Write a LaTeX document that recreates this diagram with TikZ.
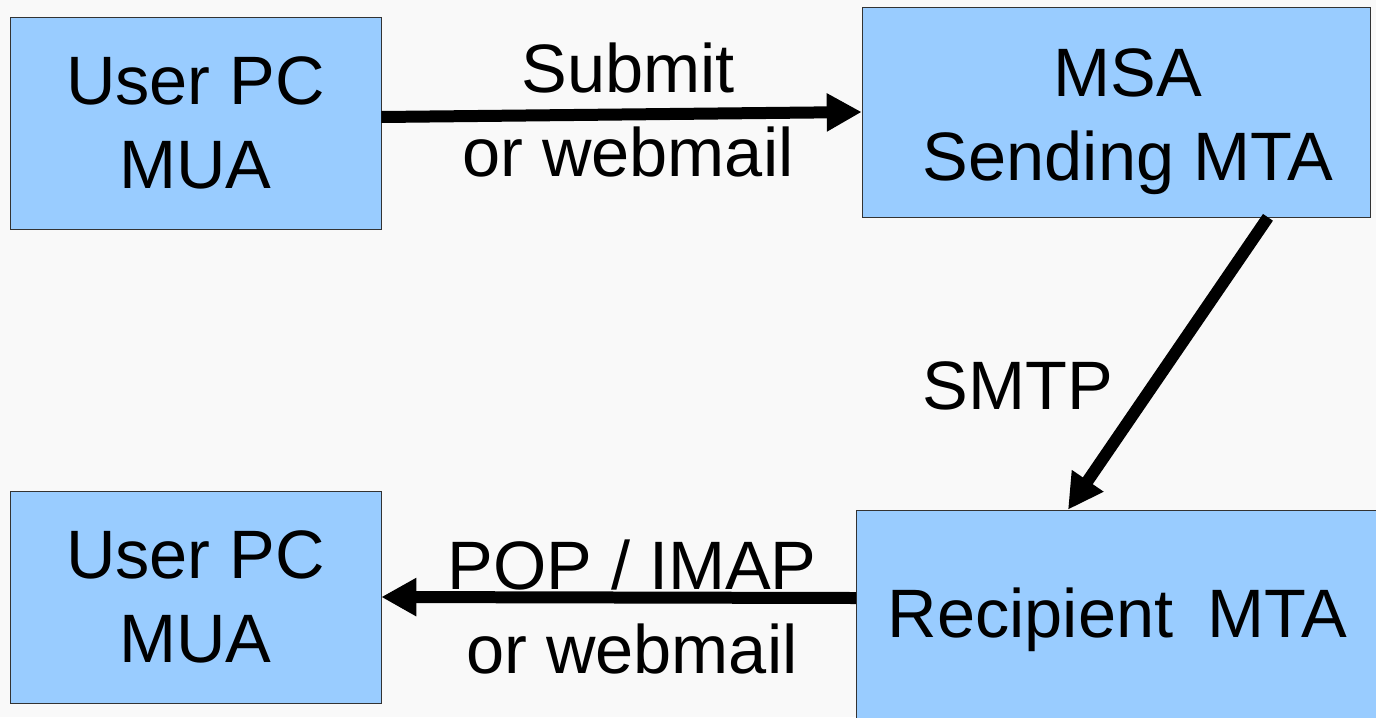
\documentclass[tikz,border=0pt]{standalone}
\usepackage{fontspec}
\setmainfont{Liberation Sans}
\usetikzlibrary{arrows.meta}

\definecolor{boxblue}{HTML}{99CCFF}
\definecolor{bggray}{HTML}{F9F9F9}

\begin{document}
\begin{tikzpicture}[x=0.02cm,y=-0.02cm,
  mbox/.style={draw=black!80, thin, fill=boxblue, align=center, inner sep=0pt,
    font=\fontsize{39}{48}\selectfont},
  lbl/.style={align=center, inner sep=0pt, font=\fontsize{39}{48}\selectfont},
  flow/.style={line width=0.24cm, -{Triangle[length=0.7cm,width=0.72cm]}}]

\fill[bggray] (0,0) rectangle (1376,717);
\useasboundingbox (0,0) rectangle (1376,717);
\clip (0,0) rectangle (1376,717);

% the four hosts
\node[mbox, minimum width=7.42cm, minimum height=4.24cm] (pcA) at (195.5,123) {User PC\\MUA};
\node[mbox, minimum width=10.16cm, minimum height=4.2cm,
  label={[lbl,xshift=0.24cm,yshift=-0.2cm]center:{MSA\\Sending MTA}}] (msa) at (1116,112) {};
\node[mbox, minimum width=7.42cm, minimum height=4.24cm] (pcB) at (195.5,597) {User PC\\MUA};
\node[mbox, minimum width=10.7cm, minimum height=4.4cm, text width=10.3cm] (rcp) at (1124,620) {\hspace*{-0.26cm}Recipient\ \,MTA};

% labels
\node[lbl] (lsub) at (628,110) {Submit\\or webmail};
\node[lbl] (lsmtp) at (1018,386) {SMTP};
\node[lbl] (lpop) at (632,607) {POP / IMAP\\or webmail};

% connectors
\draw[flow] ([yshift=0.12cm]pcA.east) -- (msa.west);
\draw[flow] ([xshift=3.04cm]msa.south) -- ([xshift=-1.12cm]rcp.north);
\draw[flow] ([yshift=0.44cm]rcp.west) -- (pcB.east);

\end{tikzpicture}
\end{document}
